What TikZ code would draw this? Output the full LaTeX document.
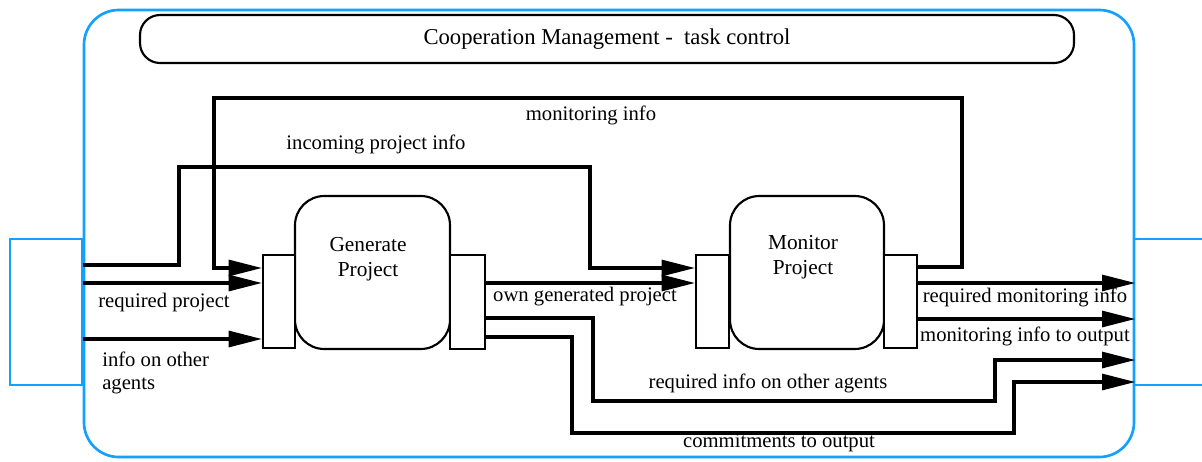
\documentclass[tikz,border=0pt]{standalone}
\usepackage{fontspec}
\setmainfont{Liberation Serif}
\usetikzlibrary{arrows.meta}
\definecolor{bl}{RGB}{20,160,255}
\begin{document}
\begin{tikzpicture}[x=0.75pt,y=-0.75pt,
  box/.style={draw, line width=1.6pt, inner sep=0pt, fill=white},
  arr/.style={line width=2.3pt, -{Triangle[length=25pt,width=12pt]}},
  lbl/.style={font=\fontsize{15.5}{17.5}\selectfont, inner sep=0pt},
  blbl/.style={font=\fontsize{16}{19}\selectfont, inner sep=0pt},
  bluebox/.style={draw=bl, line width=2pt, inner sep=0pt}]
\useasboundingbox (0,0) rectangle (1202,461);
% frames
\node[bluebox, rounded corners=26pt, minimum width=787.5pt, minimum height=335.25pt] (outer) at (609,233.5) {};
\node[bluebox, minimum width=54pt, minimum height=109.5pt] (lbox) at (46,312) {};
\coordinate (rtop) at (1202,239);
\coordinate (rbot) at (1202,385);
\draw[draw=bl, line width=2pt] (outer.east |- rtop) -- (rtop);
\draw[draw=bl, line width=2pt] (outer.east |- rbot) -- (rbot);
% title
\node[box, rounded corners=15pt, minimum width=700.5pt, minimum height=36pt, font=\fontsize{17}{20}\selectfont] (title) at (607,39) {Cooperation Management -\ \ task control};
% generate project
\node[box, rounded corners=22pt, minimum width=116.25pt, minimum height=114.75pt] (gen) at (372.5,272.5) {};
\node[blbl, align=center] (genl) at (368,259) {Generate\\Project};
\node[box, minimum width=24pt, minimum height=69.75pt] (gl) at (279,301.5) {};
\node[box, minimum width=26.25pt, minimum height=70.5pt] (gr) at (467.5,302) {};
% monitor project
\node[box, rounded corners=22pt, minimum width=115.5pt, minimum height=114.75pt] (mon) at (807,272.5) {};
\node[blbl, align=center] (monl) at (803,257) {Monitor\\Project};
\node[box, minimum width=24.75pt, minimum height=69.75pt] (ml) at (712.5,301.5) {};
\node[box, minimum width=24.75pt, minimum height=69.75pt] (mr) at (900.5,301.5) {};
% connectors
\draw[arr] (outer.west |- 0,265) -- (179,265) -- (179,167) -- (590,167) -- (590,268) -- (ml.west |- 0,268);
\draw[arr] (mr.east |- 0,267) -- (962,267) -- (962,98) -- (214,98) -- (214,268) -- (gl.west |- 0,268);
\draw[arr] (outer.west |- 0,283) -- (gl.west |- 0,283);
\draw[arr] (outer.west |- 0,339) -- (gl.west |- 0,339);
\draw[arr] (gr.east |- 0,283) -- (ml.west |- 0,283);
\draw[arr] (gr.east |- 0,318) -- (593,318) -- (593,401) -- (995,401) -- (995,360) -- (outer.east |- 0,360);
\draw[arr] (gr.east |- 0,337) -- (572,337) -- (572,433) -- (1014,433) -- (1014,382) -- (outer.east |- 0,382);
\draw[arr] (mr.east |- 0,283) -- (outer.east |- 0,283);
\draw[arr] (mr.east |- 0,319) -- (outer.east |- 0,319);
% labels
\node[lbl] (l1) at (591,115) {monitoring info};
\node[lbl] (l2) at (376,144) {incoming project info};
\node[lbl] (l3) at (164,303) {required project};
\node[lbl, align=left, anchor=west] (l4) at (102,373) {info on other\\agents};
\node[lbl] (l5) at (585,297) {own generated project};
\node[lbl] (l6) at (1025,297) {required monitoring info};
\node[lbl] (l7) at (1025,336) {monitoring info to output};
\node[lbl] (l8) at (768,383) {required info on other agents};
\node[lbl] (l9) at (779,443) {commitments to output};
\end{tikzpicture}
\end{document}
